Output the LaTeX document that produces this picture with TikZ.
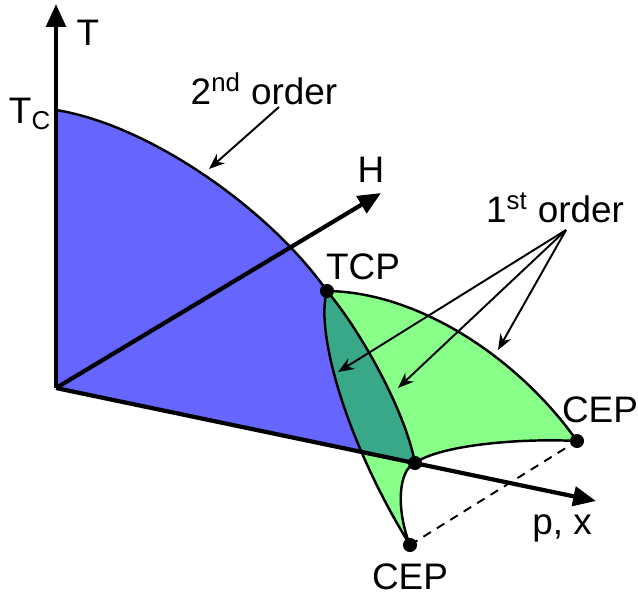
\documentclass[tikz,border=0pt]{standalone}
\usepackage{fontspec}
\setmainfont{Liberation Sans}
\usetikzlibrary{arrows.meta}
\definecolor{planeblue}{RGB}{102,102,255}
\definecolor{surfgreen}{RGB}{136,255,136}
\definecolor{lensgreen}{RGB}{56,168,136}
\begin{document}
\begin{tikzpicture}[x=0.02cm, y=-0.02cm, line join=round,
  axis/.style={line width=2.4pt, -{Stealth[length=13pt, width=11pt, inset=0pt]}},
  edge/.style={line width=1.4pt},
  pointer/.style={line width=1.1pt, -{Stealth[length=9pt, width=7pt]}},
  lbl/.style={font=\fontsize{21}{25}\selectfont, inner sep=0pt},
  dot/.style={circle, fill=black, inner sep=0pt, minimum size=8pt}]
  \useasboundingbox (0,0) rectangle (638,596);
  % points of the diagram
  \coordinate (O) at (56,388);
  \coordinate (Tc) at (56,110);
  \coordinate (tcp) at (327,291);
  \coordinate (mid) at (415,463);
  \coordinate (cepr) at (577,441);
  \coordinate (cepb) at (410,545);
  \coordinate (Ttip) at (56,4);
  \coordinate (Htip) at (381,193);
  \coordinate (ptip) at (596,501);
  % first order surface
  \fill[surfgreen] (tcp) .. controls (315,330) and (345,440) .. (cepb)
    .. controls (396,510) and (398,470) .. (mid)
    .. controls (440,445) and (520,438) .. (cepr)
    .. controls (520,360) and (420,292) .. (tcp) -- cycle;
  % second order plane, only above the p axis
  \begin{scope}
    \clip (O) -- (56,0) -- (638,0) -- (638,509.6) -- cycle;
    \fill[planeblue] (O) -- (Tc) .. controls (150,125) and (270,210) .. (tcp)
      .. controls (315,330) and (345,440) .. (cepb) -- cycle;
    \fill[lensgreen] (tcp) .. controls (315,330) and (345,440) .. (cepb)
      -- (mid) .. controls (405,410) and (360,330) .. (tcp) -- cycle;
  \end{scope}
  \draw[edge] (Tc) .. controls (150,125) and (270,210) .. (tcp);
  \draw[edge] (tcp) .. controls (315,330) and (345,440) .. (cepb)
    .. controls (396,510) and (398,470) .. (mid)
    .. controls (440,445) and (520,438) .. (cepr)
    .. controls (520,360) and (420,292) .. (tcp);
  \draw[edge] (tcp) .. controls (360,330) and (405,410) .. (mid);
  % axes
  \draw[axis] (O) -- (Ttip);
  \draw[axis] (O) -- (Htip);
  \draw[axis] (O) -- (ptip);
  \draw[line width=1.1pt, dash pattern=on 5pt off 4pt] (cepb) -- (cepr);
  \node[dot] at (tcp) {};
  \node[dot] at (mid) {};
  \node[dot] at (cepr) {};
  \node[dot] at (cepb) {};
  % labels
  \node[lbl] (Tlbl) at (88,33) {T};
  \node[lbl] (Tclbl) at (30,114) {T\textsubscript{C}};
  \node[lbl] (Hlbl) at (371,170) {H};
  \node[lbl] (pxlbl) at (562,528) {p, x};
  \node[lbl] (tcplbl) at (363,267) {TCP};
  \node[lbl] (ceprlbl) at (600,410) {CEP};
  \node[lbl] (cepblbl) at (410,577) {CEP};
  \node[lbl] (second) at (264,89) {2\textsuperscript{nd} order};
  \node[lbl] (first) at (555,208) {1\textsuperscript{st} order};
  % pointers
  \coordinate (secfoot) at (279,107);
  \coordinate (secend) at (209,169);
  \coordinate (fstfoot) at (566,230);
  \coordinate (fstlens) at (338,372);
  \coordinate (fstmid) at (398,388);
  \coordinate (fstedge) at (498,350);
  \draw[pointer] (secfoot) -- (secend);
  \draw[pointer] (fstfoot) -- (fstlens);
  \draw[pointer] (fstfoot) -- (fstmid);
  \draw[pointer] (fstfoot) -- (fstedge);
\end{tikzpicture}
\end{document}
